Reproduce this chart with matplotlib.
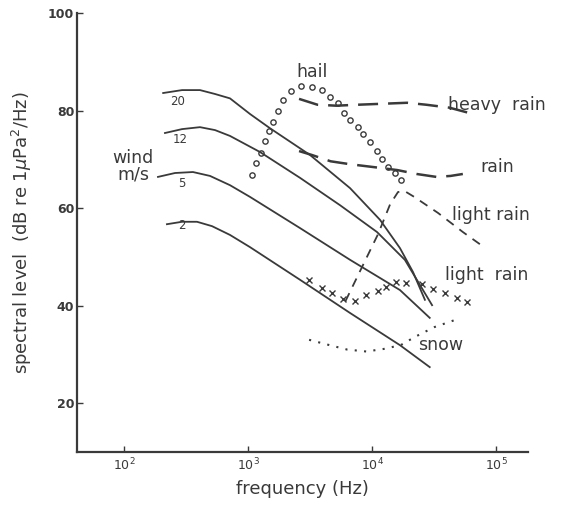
import matplotlib
matplotlib.use("Agg")
import matplotlib.pyplot as plt
from matplotlib.ticker import FixedLocator, FixedFormatter

# wind noise curves (frequency Hz, level dB)
wind20_f = [207, 294, 410, 542, 716, 1038, 1500, 3160, 6650, 11600, 16800, 21400, 26700]
wind20_db = [83.6, 84.2, 84.2, 83.4, 82.5, 79.3, 76.4, 70.9, 64.1, 57.6, 51.8, 46.9, 41.2]
wind12_f = [214, 294, 410, 542, 716, 1250, 2630, 5520, 10970, 18400, 30500]
wind12_db = [75.4, 76.2, 76.6, 76.0, 74.8, 71.5, 66.2, 60.6, 55.1, 49.4, 40.1]
wind5_f = [188, 258, 360, 494, 716, 1038, 2630, 6650, 16800, 29200]
wind5_db = [66.4, 67.2, 67.4, 66.6, 64.7, 62.3, 55.9, 49.4, 43.2, 37.5]
wind2_f = [222, 294, 388, 513, 716, 1038, 2630, 6650, 16800, 29200]
wind2_db = [56.7, 57.2, 57.2, 56.3, 54.5, 52.0, 45.3, 38.5, 31.9, 27.4]

# hail (open circles)
hail_f = [1077, 1161, 1274, 1372, 1477, 1591, 1746, 1915, 2222, 2675, 3280, 3952,
          4584, 5317, 5945, 6650, 7712, 8460, 9630, 10970, 12040, 13460, 15320, 17130]
hail_db = [66.8, 69.2, 71.3, 73.8, 75.8, 77.7, 79.9, 82.2, 84.0, 85.0, 84.8, 84.2,
           82.8, 81.5, 79.5, 78.1, 76.6, 75.2, 73.6, 71.7, 70.1, 68.4, 67.2, 65.7]

heavy_f = [2580, 3630, 5150, 7710, 12200, 19200, 27300, 42000, 61000]
heavy_db = [82.4, 81.2, 81.0, 81.2, 81.4, 81.6, 81.2, 80.6, 79.5]
rain_f = [2580, 3270, 4640, 6650, 10400, 16000, 22900, 33000, 43000, 54000]
rain_db = [71.7, 70.9, 69.6, 69.0, 68.4, 67.8, 67.0, 66.4, 66.6, 67.0]
light1_f = [6100, 8300, 11200, 14000, 16200, 18300, 21900, 34100, 54000, 80000]
light1_db = [40.9, 47.9, 54.7, 60.8, 63.3, 63.5, 62.3, 59.0, 55.1, 52.0]
light2_f = [3110, 3950, 4800, 5850, 7250, 9010, 11100, 13000, 15600, 18700,
            25400, 31000, 38700, 48000, 58600]
light2_db = [45.3, 43.7, 42.6, 41.4, 41.0, 42.2, 43.0, 43.9, 44.9, 44.7,
             44.5, 43.5, 42.6, 41.6, 40.8]
snow_f = [3110, 4400, 6300, 9010, 13000, 17300, 22200, 31800, 51000]
snow_db = [33.0, 32.0, 31.0, 30.6, 31.2, 32.0, 33.6, 35.6, 37.4]

ink = "#3a3a3a"
fig = plt.figure(figsize=(5.67, 5.11), dpi=100)
ax = fig.add_axes([0.1358, 0.1155, 0.7954, 0.859])
ax.set_xscale("log")
ax.set_xlim(41.8, 181000)
ax.set_ylim(10, 100)

for f, db in [(wind20_f, wind20_db), (wind12_f, wind12_db),
              (wind5_f, wind5_db), (wind2_f, wind2_db)]:
    ax.plot(f, db, color=ink, lw=1.3, solid_joinstyle="round")

ax.plot(hail_f, hail_db, ls="none", marker="o", ms=3.8, mfc="none", mec=ink, mew=1.0)
ax.plot(heavy_f, heavy_db, color=ink, lw=1.8, dashes=(8, 4))
ax.plot(rain_f, rain_db, color=ink, lw=1.8, dashes=(8, 4))
ax.plot(light1_f, light1_db, color=ink, lw=1.3, dashes=(5, 4))
ax.plot(light2_f, light2_db, ls="none", marker="x", ms=4, mec=ink, mew=1.0)
ax.plot(snow_f, snow_db, color=ink, lw=1.5, ls=(0, (1, 3.5)))

tf = dict(color=ink, fontsize=12.5)
ax.text(3280, 87.9, "hail", ha="center", va="center", **tf)
ax.text(41000, 81.1, "heavy  rain", ha="left", va="center", **tf)
ax.text(74300, 68.4, "rain", ha="left", va="center", **tf)
ax.text(44200, 58.6, "light rain", ha="left", va="center", **tf)
ax.text(38800, 46.3, "light  rain", ha="left", va="center", **tf)
ax.text(23500, 31.9, "snow", ha="left", va="center", **tf)
ax.text(118, 68.6, "wind\nm/s", ha="center", va="center", multialignment="center",
        linespacing=0.95, **tf)
for lab, fx, dbv in [("20", 272, 81.8), ("12", 283, 74.0), ("5", 294, 65.1), ("2", 294, 56.5)]:
    ax.text(fx, dbv, lab, ha="center", va="center", color=ink, fontsize=8.5)

ax.spines["top"].set_visible(False)
ax.spines["right"].set_visible(False)
for s in ["left", "bottom"]:
    ax.spines[s].set_color(ink)
    ax.spines[s].set_linewidth(1.6)

ax.xaxis.set_major_locator(FixedLocator([1e2, 1e3, 1e4, 1e5]))
ax.xaxis.set_major_formatter(FixedFormatter(["$10^2$", "$10^3$", "$10^4$", "$10^5$"]))
ax.xaxis.set_minor_locator(FixedLocator([]))
ax.set_yticks([20, 40, 60, 80, 100])
ax.tick_params(direction="in", length=4, width=1.0, color=ink, labelcolor=ink,
               labelsize=9)
ax.tick_params(axis="y", pad=2)
for t in ax.get_yticklabels():
    t.set_fontweight("bold")

ax.set_xlabel("frequency (Hz)", fontsize=13, color=ink, labelpad=5)
ax.set_ylabel(r"spectral level  (dB re 1$\mu$Pa$^2$/Hz)", fontsize=13, color=ink,
              labelpad=10)

fig.savefig("out.png", dpi=100)
